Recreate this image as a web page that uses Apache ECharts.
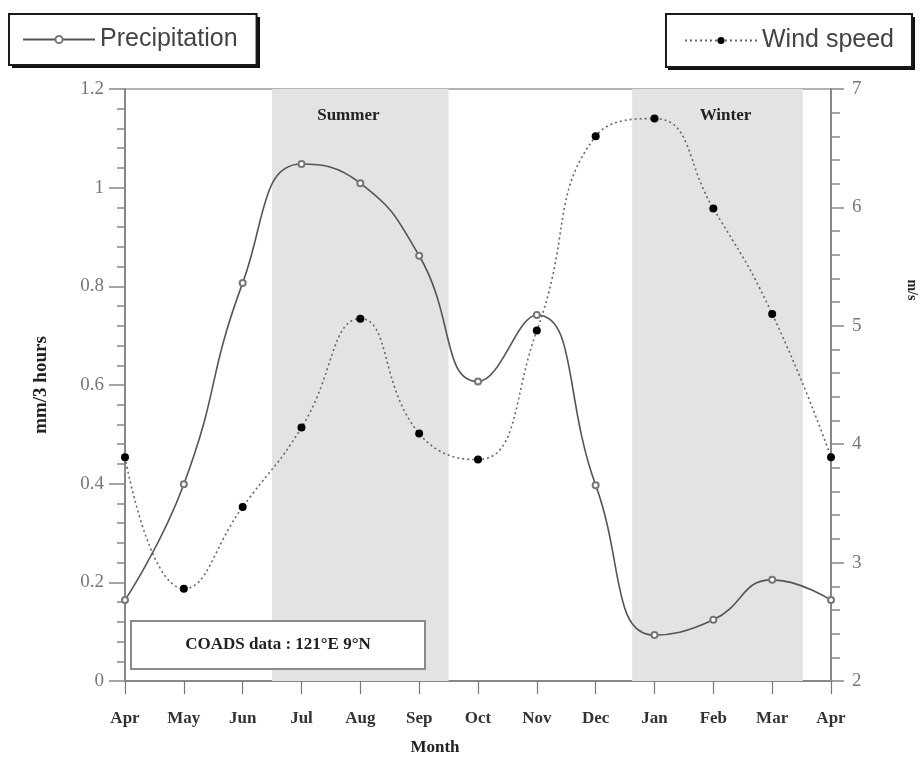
<!DOCTYPE html>
<html>
<head>
<meta charset="utf-8">
<script src="https://cdn.jsdelivr.net/npm/echarts@6/dist/echarts.min.js"></script>
<style>html,body{margin:0;padding:0;background:#fff;}#c{width:921px;height:781px;}</style>
</head>
<body>
<div id="c"></div>
<script>
var months = ['Apr','May','Jun','Jul','Aug','Sep','Oct','Nov','Dec','Jan','Feb','Mar','Apr'];
var precipitation = [0.164, 0.399, 0.807, 1.048, 1.009, 0.862, 0.607, 0.742, 0.397, 0.093, 0.124, 0.205, 0.164];
var windSpeed = [3.89, 2.78, 3.47, 4.14, 5.06, 4.09, 3.87, 4.96, 6.60, 6.75, 5.99, 5.10, 3.89];
var seasons = [['Summer', 2.5, 5.5], ['Winter', 8.62, 11.52]];
var leftTicks = [0, 1.2, 0.2];
var rightTicks = [2, 7, 1];

var serif = '"Liberation Serif", "DejaVu Serif", serif';
var sans = '"Liberation Sans", Arial, sans-serif';

var chart = echarts.init(document.getElementById('c'), null, {renderer: 'canvas'});

var precipData = precipitation.map(function (v, i) { return [i, v]; });
var windData = windSpeed.map(function (v, i) { return [i, v]; });
var seasonOffsets = [[-12, 0], [8, 0]];
var areaData = seasons.map(function (s, k) {
  return [{xAxis: s[1], name: s[0], label: {offset: seasonOffsets[k]}}, {xAxis: s[2]}];
});

var legendCommon = {
  orient: 'horizontal',
  top: 14,
  itemWidth: 72,
  itemHeight: 9,
  itemGap: 8,
  backgroundColor: '#fff',
  borderColor: '#1a1a1a',
  borderWidth: 2,
  borderRadius: 0,
  textStyle: {fontFamily: sans, fontSize: 25, color: '#444'},
  selectedMode: false,
  z: 10
};

chart.setOption({
  backgroundColor: '#fff',
  animation: false,
  legend: [
    Object.assign({}, legendCommon, {left: 9, data: ['Precipitation'], padding: [13, 19, 13, 13]}),
    Object.assign({}, legendCommon, {right: 9, data: ['Wind speed'], padding: [14, 18, 14, 18]})
  ],
  grid: {left: 125, right: 90, top: 89, bottom: 100, show: true, borderColor: '#9a9a9a', borderWidth: 1.5, backgroundColor: 'transparent'},
  xAxis: {
    type: 'value', min: 0, max: 12, interval: 1,
    name: 'Month', nameLocation: 'middle', nameGap: 58,
    nameTextStyle: {fontFamily: serif, fontWeight: 'bold', fontSize: 17, color: '#222', padding: [0, 86, 0, 0]},
    axisLine: {show: true, lineStyle: {color: '#888', width: 2}},
    axisTick: {show: true, inside: false, length: 13, lineStyle: {color: '#777', width: 1.2}},
    minorTick: {show: false},
    splitLine: {show: false},
    axisLabel: {
      margin: 29, fontFamily: serif, fontWeight: 'bold', fontSize: 17, color: '#333',
      formatter: function (v) { return months[Math.round(v)] || ''; }
    }
  },
  yAxis: [
    {
      type: 'value', min: leftTicks[0], max: leftTicks[1], interval: leftTicks[2], position: 'left',
      name: 'mm/3 hours', nameLocation: 'middle', nameGap: 74, nameRotate: 90,
      nameTextStyle: {fontFamily: serif, fontWeight: 'bold', fontSize: 19, color: '#222'},
      axisLine: {show: true, lineStyle: {color: '#888', width: 2}},
      axisTick: {show: true, length: 16, lineStyle: {color: '#888', width: 1.5}},
      minorTick: {show: true, splitNumber: 5, length: 8, lineStyle: {color: '#888', width: 1.5}},
      splitLine: {show: false},
      axisLabel: {margin: 21, fontFamily: serif, fontSize: 19, color: '#777',
        formatter: function (v) { return String(Math.round(v * 10) / 10); }}
    },
    {
      type: 'value', min: rightTicks[0], max: rightTicks[1], interval: rightTicks[2], position: 'right',
      axisLine: {show: true, lineStyle: {color: '#888', width: 2}},
      axisTick: {show: true, length: 13, lineStyle: {color: '#888', width: 1.5}},
      minorTick: {show: true, splitNumber: 5, length: 9, lineStyle: {color: '#888', width: 1.5}},
      splitLine: {show: false},
      axisLabel: {margin: 21, fontFamily: serif, fontSize: 19, color: '#777'}
    }
  ],
  graphic: [
    {type: 'rect', z: 1, left: 12, top: 17, shape: {width: 248, height: 51}, style: {fill: '#111'}},
    {type: 'rect', z: 1, left: 668, top: 17, shape: {width: 247, height: 53}, style: {fill: '#111'}},
    {
      type: 'group', left: 130, top: 620, z: 50,
      children: [
        {type: 'rect', z: 50, shape: {x: 0, y: 0, width: 294, height: 48}, style: {fill: '#fff', stroke: '#8a8a8a', lineWidth: 2}},
        {type: 'text', z: 51, x: 147, y: 24, style: {text: 'COADS data : 121°E 9°N', font: 'bold 17px ' + serif, fill: '#222', align: 'center', verticalAlign: 'middle'}}
      ]
    },
    {
      type: 'text', x: 912, y: 290, rotation: -Math.PI / 2,
      style: {text: 'm/s', font: 'bold 14px ' + serif, fill: '#222', align: 'center', verticalAlign: 'middle'}
    }
  ],
  series: [
    {
      name: 'Precipitation', type: 'line', yAxisIndex: 0, data: precipData,
      smooth: 0.5, symbol: 'emptyCircle', symbolSize: 6,
      lineStyle: {color: '#555', width: 1.6},
      itemStyle: {color: '#777', borderColor: '#777', borderWidth: 1},
      z: 3,
      markArea: {
        silent: true,
        itemStyle: {color: '#e3e3e3'},
        label: {show: true, position: 'insideTop', distance: 18, fontFamily: serif, fontWeight: 'bold', fontSize: 17, color: '#222'},
        data: areaData
      }
    },
    {
      name: 'Wind speed', type: 'line', yAxisIndex: 1, data: windData,
      smooth: 0.5, symbol: 'circle', symbolSize: 8,
      lineStyle: {color: '#666', width: 1.6, type: [2, 3]},
      itemStyle: {color: '#000'},
      z: 4
    }
  ]
});
</script>
</body>
</html>
